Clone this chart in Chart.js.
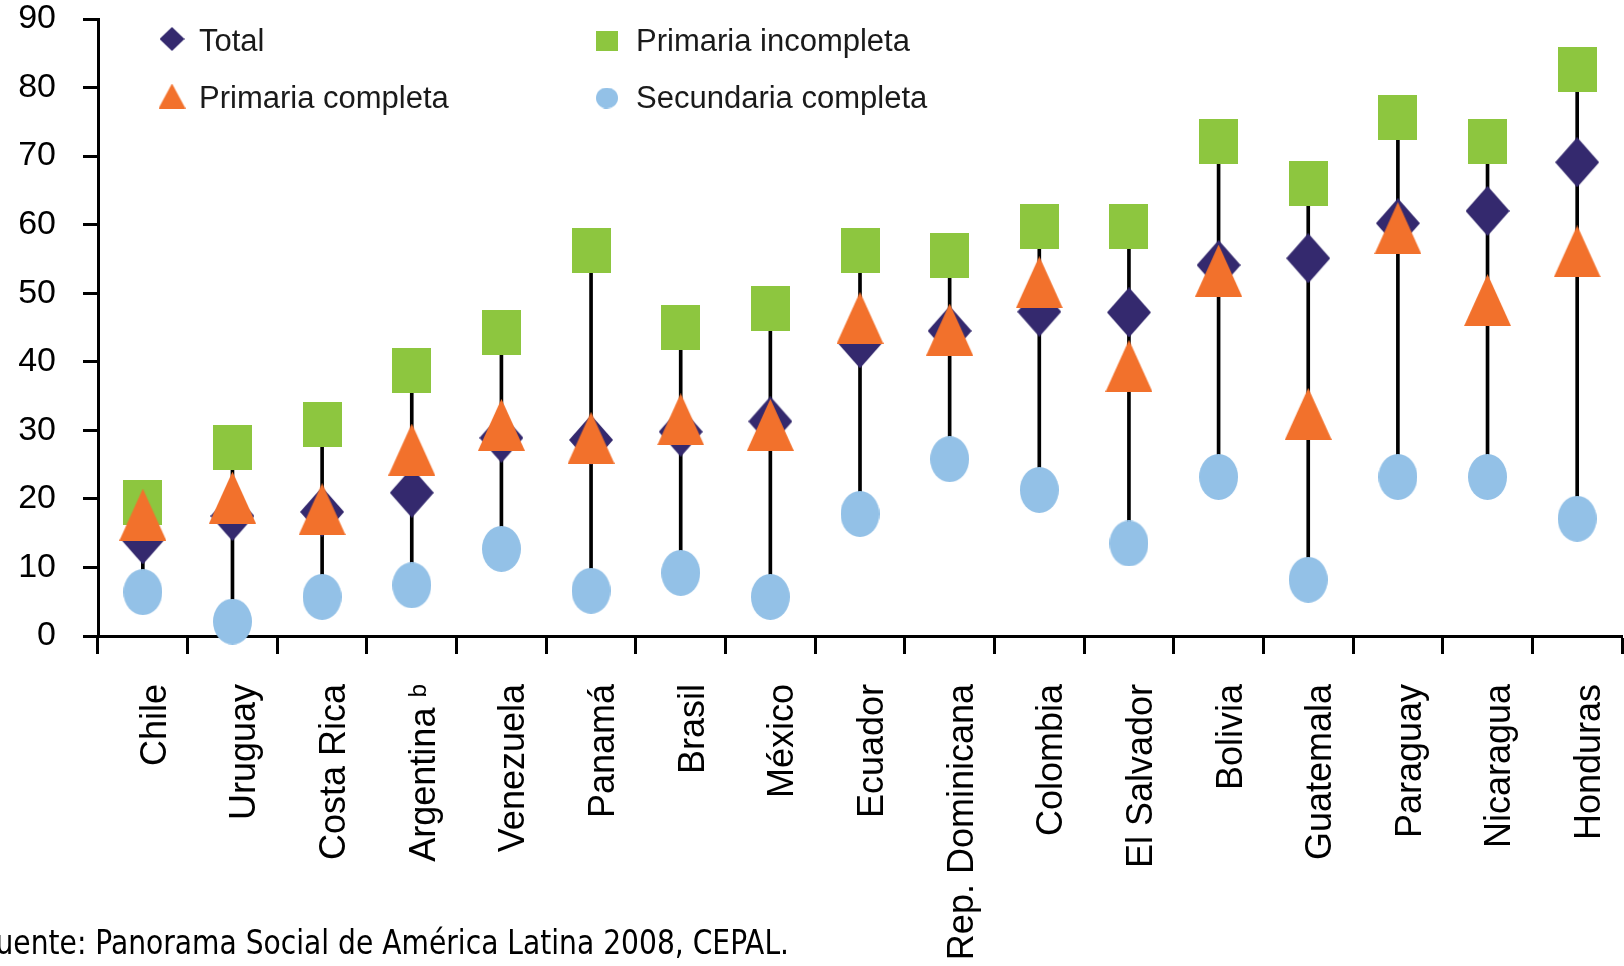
<!DOCTYPE html>
<html>
<head>
<meta charset="utf-8">
<script src="https://cdn.jsdelivr.net/npm/chart.js@4.4.1/dist/chart.umd.min.js"></script>
<style>
    html, body { margin: 0; padding: 0; background: #fff; }
    #wrap { position: relative; width: 1624px; height: 966px; overflow: hidden; }
</style>
</head>
<body>
<div id="wrap"><canvas id="chart"></canvas></div>
<script>
// datos (porcentajes)
var paises = ["Chile", "Uruguay", "Costa Rica", "Argentina \u1D47", "Venezuela", "Panamá", "Brasil", "México", "Ecuador",
    "Rep. Dominicana", "Colombia", "El Salvador", "Bolivia", "Guatemala", "Paraguay", "Nicaragua", "Honduras"];
var total = [14.1, 17.5, 18.1, 20.9, 28.9, 28.6, 29.8, 31.3, 42.7, 44.5, 47.3, 47.2, 54.1, 55.1, 60.2, 62.0, 69.1];
var primariaIncompleta = [19.5, 27.5, 30.9, 38.8, 44.2, 56.3, 45.0, 47.7, 56.3, 55.5, 59.8, 59.8, 72.1, 66.0, 75.7, 72.1, 82.6];
var primariaCompleta = [17.7, 20.2, 18.5, 27.2, 30.8, 28.9, 31.6, 30.8, 46.4, 44.7, 51.6, 39.4, 53.3, 32.4, 59.5, 49.0, 56.1];
var secundariaCompleta = [6.4, 2.1, 5.7, 7.4, 12.7, 6.6, 9.2, 5.7, 17.8, 25.8, 21.3, 13.5, 23.2, 8.2, 23.2, 23.2, 17.1];
var yMin = 0, yMax = 90, yStep = 10;
var fuente = "Fuente: Panorama Social de América Latina 2008, CEPAL.";

const colorTotal = "#34296e";
const colorIncompleta = "#8dc63f";
const colorCompleta = "#f2712c";
const colorSecundaria = "#93c1e7";

function makeMarker(shape, color, w, h) {
    var c = document.createElement("canvas");
    c.width = w;
    c.height = h;
    var g = c.getContext("2d");
    g.fillStyle = color;
    g.beginPath();
    if (shape == "diamond") {
        g.moveTo(w / 2, 0); g.lineTo(w, h / 2); g.lineTo(w / 2, h); g.lineTo(0, h / 2);
    } else if (shape == "triangle") {
        g.moveTo(w / 2, 0); g.lineTo(w, h); g.lineTo(0, h);
    } else if (shape == "square") {
        g.rect(0, 0, w, h);
    } else {
        g.ellipse(w / 2, h / 2, w / 2, h / 2, 0, 0, Math.PI * 2);
    }
    g.closePath();
    g.fill();
    return c;
}

var mkTotal = makeMarker("diamond", colorTotal, 44, 50);
var mkIncompleta = makeMarker("square", colorIncompleta, 39, 45);
var mkCompleta = makeMarker("triangle", colorCompleta, 47, 52);
var mkSecundaria = makeMarker("circle", colorSecundaria, 39, 46);

var leyendaItems = [
    { text: "Total", img: makeMarker("diamond", colorTotal, 25, 24), x: 172, y: 39, tx: 199, base: 51 },
    { text: "Primaria completa", img: makeMarker("triangle", colorCompleta, 27, 25), x: 172, y: 96, tx: 199, base: 108 },
    { text: "Primaria incompleta", img: makeMarker("square", colorIncompleta, 22, 20), x: 607, y: 41, tx: 636, base: 51 },
    { text: "Secundaria completa", img: makeMarker("circle", colorSecundaria, 22, 21), x: 607, y: 98, tx: 636, base: 108 }
];

// rango de cada pais: linea negra del minimo al maximo
var rangos = paises.map((p, i) => {
    var vals = [total[i], primariaIncompleta[i], primariaCompleta[i], secundariaCompleta[i]];
    return [Math.min(...vals), Math.max(...vals)];
});

const leyendaPlugin = {
    id: "leyenda",
    afterDraw(chart) {
        var ctx = chart.ctx;
        ctx.save();
        ctx.font = '31px "Liberation Sans", Arial, sans-serif';
        ctx.fillStyle = "#1a1a1a";
        ctx.textBaseline = "alphabetic";
        leyendaItems.forEach((it) => {
            ctx.drawImage(it.img, it.x - it.img.width / 2, it.y - it.img.height / 2);
            ctx.fillText(it.text, it.tx, it.base);
        });
        ctx.font = '33px "DejaVu Sans Condensed", "DejaVu Sans", sans-serif';
        ctx.fillStyle = "#000";
        ctx.fillText(fuente, -19, 954, 808);
        ctx.restore();
    }
};

function puntos(label, data, img, order) {
    return {
        type: "line",
        label: label,
        data: data,
        showLine: false,
        pointStyle: img,
        pointRadius: 22,
        pointHoverRadius: 22,
        order: order,
        clip: false
    };
}

const ctx = document.getElementById("chart");
new Chart(ctx, {
    type: "bar",
    data: {
        labels: paises,
        datasets: [
            {
                label: "rango",
                data: rangos,
                backgroundColor: "#000",
                barThickness: 3,
                grouped: false,
                order: 5
            },
            puntos("Total", total, mkTotal, 2),
            puntos("Primaria incompleta", primariaIncompleta, mkIncompleta, 3),
            puntos("Primaria completa", primariaCompleta, mkCompleta, 1),
            puntos("Secundaria completa", secundariaCompleta, mkSecundaria, 4)
        ]
    },
    options: {
        responsive: true,
        maintainAspectRatio: false,
        animation: false,
        events: [],
        layout: { autoPadding: false, padding: { top: 19, right: 2, left: 0, bottom: 0 } },
        plugins: {
            legend: { display: false },
            tooltip: { enabled: false }
        },
        scales: {
            x: {
                offset: true,
                grid: {
                    offset: true,
                    drawOnChartArea: false,
                    drawTicks: true,
                    tickLength: 18,
                    tickWidth: 3,
                    tickColor: "#000"
                },
                border: { color: "#000", width: 3 },
                ticks: {
                    autoSkip: false,
                    maxRotation: 90,
                    minRotation: 90,
                    padding: 30,
                    labelOffset: 13,
                    color: "#000",
                    font: { family: '"Liberation Sans", Arial, sans-serif', size: 36 }
                },
                afterFit: (scale) => {
                    scale.height = 330;
                    scale.paddingLeft = 0;
                    scale.paddingRight = 0;
                }
            },
            y: {
                min: yMin,
                max: yMax,
                grid: {
                    drawOnChartArea: false,
                    drawTicks: true,
                    tickLength: 15,
                    tickWidth: 3,
                    tickColor: "#000"
                },
                border: { color: "#000", width: 3 },
                ticks: {
                    stepSize: yStep,
                    padding: 27,
                    color: "#000",
                    font: { family: '"Liberation Sans", Arial, sans-serif', size: 34 }
                },
                afterFit: (scale) => {
                    scale.width = 98;
                    scale.paddingTop = 0;
                    scale.paddingBottom = 0;
                }
            }
        }
    },
    plugins: [leyendaPlugin]
});
</script>
</body>
</html>
